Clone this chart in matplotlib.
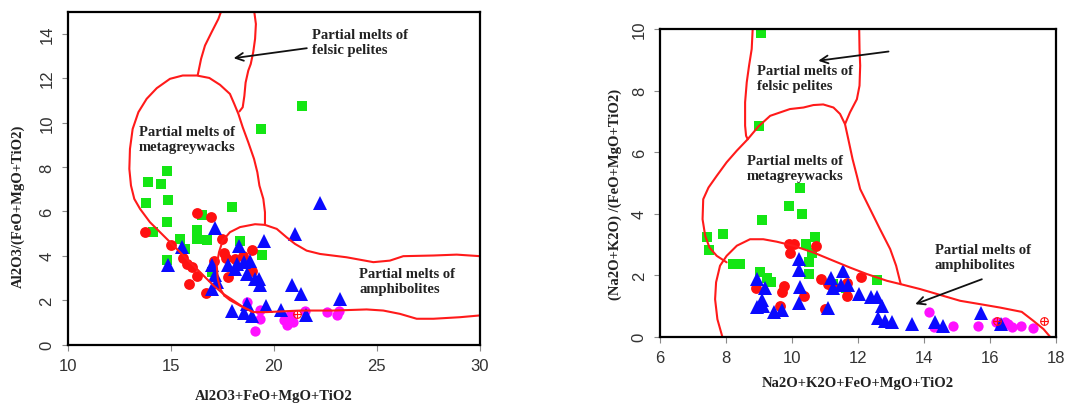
import matplotlib
matplotlib.use("Agg")
import matplotlib.pyplot as plt

# ---------------- Left diagram: Al2O3/(FeO+MgO+TiO2) vs Al2O3+FeO+MgO+TiO2 ----------------
left_green_x = [21.35, 19.38, 14.8, 13.91, 14.51, 13.79, 14.88, 17.96, 14.8, 16.5, 14.16, 15.45,
                16.26, 16.26, 16.75, 15.69, 14.8, 16.99, 18.36, 19.45]
left_green_y = [10.74, 9.71, 7.81, 7.31, 7.25, 6.38, 6.52, 6.19, 5.54, 5.84, 5.08, 4.75,
                5.14, 4.76, 4.72, 4.32, 3.8, 3.26, 4.68, 4.04]

left_red_x = [13.75, 16.26, 16.97, 15.0, 15.61, 15.81, 16.02, 16.29, 15.9, 16.72, 17.48, 17.59,
              17.09, 17.68, 18.12, 18.93, 18.52, 18.94, 17.8]
left_red_y = [5.05, 5.93, 5.74, 4.47, 3.89, 3.64, 3.49, 3.07, 2.73, 2.32, 4.77, 4.14,
              3.78, 3.89, 3.86, 4.27, 4.01, 3.3, 3.04]

left_magenta_x = [18.69, 19.09, 19.34, 19.34, 20.47, 20.63, 20.93, 21.52, 20.79, 22.57, 23.06, 23.17]
left_magenta_y = [1.93, 0.62, 1.16, 1.55, 1.1, 0.86, 1.01, 1.53, 1.31, 1.46, 1.31, 1.5]

left_blue_x = [22.26, 21.05, 17.15, 19.5, 18.32, 15.53, 14.85, 17.01, 17.8, 18.2, 18.53, 18.82,
               18.12, 18.69, 19.09, 19.3, 19.34, 17.15, 17.23, 16.99, 20.87, 21.3, 23.23,
               17.97, 18.53, 18.69, 18.95, 19.61, 20.35, 21.57]
left_blue_y = [6.38, 5.0, 5.25, 4.68, 4.44, 4.38, 3.6, 3.6, 3.56, 3.64, 3.71, 3.74,
               3.41, 3.18, 2.96, 2.96, 2.66, 3.11, 2.81, 2.51, 2.7, 2.26, 2.06,
               1.51, 1.44, 1.83, 1.29, 1.72, 1.57, 1.32]

left_cross_x = [21.12]
left_cross_y = [1.38]

# field boundaries (left)
left_pelite_l_x = [16.31, 16.47, 16.66, 16.98, 17.31, 17.44]
left_pelite_l_y = [12.15, 12.87, 13.47, 14.07, 14.67, 15.0]
left_pelite_r_x = [18.33, 18.49, 18.57, 18.63, 18.76, 18.88, 19.0, 19.09, 19.13, 19.05]
left_pelite_r_y = [10.5, 10.69, 11.2, 11.8, 12.34, 12.64, 13.17, 13.77, 14.44, 15.0]

left_greywacke_x = [19.57, 19.57, 19.49, 19.3, 19.2, 19.04, 18.76, 18.49, 18.28, 18.08, 17.87,
                    17.39, 16.87, 16.26, 15.58, 14.96, 14.32, 13.83, 13.43, 13.15, 13.02, 12.99,
                    13.07, 13.23, 13.51, 13.99, 14.48, 15.13, 15.77, 16.42, 17.07, 17.55, 18.04,
                    18.52, 19.0]
left_greywacke_y = [5.39, 5.96, 6.56, 7.16, 7.76, 8.36, 9.11, 9.79, 10.39, 10.84, 11.29,
                    11.7, 12.01, 12.12, 12.12, 11.97, 11.55, 11.07, 10.47, 9.71, 8.81, 7.91,
                    7.16, 6.56, 6.11, 5.51, 5.06, 4.46, 3.86, 3.26, 2.66, 2.28, 1.98,
                    1.68, 1.46]

left_amph_top_x = [17.6, 17.4, 17.28, 17.23, 17.34, 17.52, 17.87, 18.36, 19.09, 19.57, 20.14,
                   20.62, 21.03, 21.59, 22.24, 23.53, 24.83, 25.63, 26.28, 27.74, 28.87, 30.0]
left_amph_top_y = [2.2, 2.51, 2.96, 3.56, 4.16, 4.68, 5.06, 5.29, 5.42, 5.39, 5.21,
                   4.83, 4.53, 4.23, 4.08, 3.93, 3.71, 3.78, 3.98, 4.01, 4.05, 3.98]
left_amph_bot_x = [17.6, 17.87, 18.36, 19.0, 19.65, 21.27, 22.89, 24.5, 25.31, 26.12, 26.93,
                   27.74, 29.03, 30.0]
left_amph_bot_y = [2.2, 2.0, 1.75, 1.46, 1.46, 1.53, 1.53, 1.58, 1.53, 1.38, 1.16,
                   1.16, 1.23, 1.31]

# ---------------- Right diagram: (Na2O+K2O)/(FeO+MgO+TiO2) vs Na2O+K2O+FeO+MgO+TiO2 ----------------
right_green_x = [9.06, 9.01, 10.25, 9.9, 10.31, 9.09, 7.43, 7.92, 10.7, 7.5, 10.42, 10.6,
                 10.52, 8.2, 8.42, 9.03, 9.23, 9.38, 10.53, 12.57, 11.25, 11.64]
right_green_y = [9.86, 6.86, 4.83, 4.24, 3.99, 3.8, 3.23, 3.34, 3.23, 2.82, 3.0, 2.72,
                 2.42, 2.36, 2.36, 2.11, 1.91, 1.78, 2.05, 1.84, 1.7, 1.58]

right_red_x = [9.9, 10.05, 10.72, 9.93, 8.91, 9.76, 9.69, 9.64, 10.38, 10.87, 11.0, 11.25,
               11.66, 12.08, 11.1, 11.66]
right_red_y = [3.02, 3.02, 2.95, 2.71, 1.58, 1.65, 1.47, 1.01, 1.32, 1.88, 0.9, 1.6,
               1.33, 1.93, 1.7, 1.75]

right_magenta_x = [14.17, 14.3, 14.88, 15.65, 16.2, 16.45, 16.67, 16.96, 17.31, 16.55]
right_magenta_y = [0.82, 0.32, 0.35, 0.35, 0.49, 0.48, 0.33, 0.35, 0.28, 0.42]

right_blue_x = [8.95, 9.18, 9.08, 9.13, 8.95, 9.45, 9.69, 10.21, 10.21, 10.26, 10.22, 11.1,
                11.17, 11.25, 11.54, 11.5, 11.7, 12.04, 12.41, 12.57, 12.72, 12.62, 12.82,
                13.02, 13.63, 14.33, 14.58, 15.73, 16.35]
right_blue_y = [1.88, 1.57, 1.2, 0.99, 0.97, 0.8, 0.88, 2.53, 2.17, 1.62, 1.09, 0.93,
                1.91, 1.6, 2.15, 1.67, 1.67, 1.39, 1.28, 1.28, 1.0, 0.62, 0.52,
                0.47, 0.41, 0.49, 0.36, 0.76, 0.43]

right_cross_x = [16.22, 17.63]
right_cross_y = [0.52, 0.5]

# field boundaries (right)
right_pelite_l_x = [8.81, 8.78, 8.7, 8.63, 8.58, 8.58, 8.61, 8.66]
right_pelite_l_y = [10.0, 9.35, 8.81, 8.27, 7.62, 6.86, 6.53, 6.42]
right_pelite_r_x = [12.04, 12.05, 12.07, 12.05, 11.97, 11.76, 11.61]
right_pelite_r_y = [10.0, 9.35, 8.81, 8.16, 7.72, 7.29, 6.91]

right_greywacke_x = [8.02, 7.72, 7.5, 7.37, 7.29, 7.31, 7.47, 7.72, 8.02, 8.33, 8.66, 8.98,
                     9.34, 9.94, 10.35, 10.65, 10.95, 11.26, 11.46, 11.61, 11.71, 11.84,
                     11.97, 12.07, 12.37, 12.67, 12.98, 13.16, 13.3]
right_greywacke_y = [2.42, 2.63, 2.9, 3.28, 3.82, 4.47, 4.85, 5.23, 5.67, 6.05, 6.42, 6.83,
                     7.18, 7.4, 7.45, 7.53, 7.55, 7.45, 7.24, 6.91, 6.42, 5.77,
                     5.23, 4.8, 4.15, 3.5, 2.85, 2.31, 1.71]

right_amph_x = [7.89, 7.74, 7.67, 7.7, 7.82, 8.02, 8.33, 8.73, 9.13, 9.54, 10.04, 10.65,
                11.26, 11.76, 12.27, 12.88, 13.3, 13.89, 14.59, 15.1, 15.71, 16.31, 16.97,
                17.32, 17.63, 17.83]
right_amph_y = [0.0, 0.57, 1.22, 1.77, 2.31, 2.63, 2.96, 3.17, 3.17, 3.09, 2.96, 2.74,
                2.47, 2.25, 2.04, 1.82, 1.71, 1.55, 1.33, 1.17, 1.06, 0.95, 0.81,
                0.52, 0.25, 0.0]

GREEN = "#14e614"
RED = "#ff1010"
BLUE = "#0a0aff"
MAGENTA = "#ff10ff"
LINE_RED = "#ff1a1a"

SERIF = "Liberation Serif"
SANS = "Liberation Sans"
LABEL_COLOR = "#222222"

fig = plt.figure(figsize=(10.68, 4.06), dpi=100)
fig.patch.set_facecolor("white")

ax1 = fig.add_axes([0.0634, 0.149, 0.386, 0.820])
ax2 = fig.add_axes([0.618, 0.168, 0.3705, 0.758])


def draw_points(ax, gx, gy, rx, ry, mx, my, bx, by, cx, cy):
    ax.plot(gx, gy, ls="none", marker="s", ms=7.6, mew=0, color=GREEN, zorder=3)
    ax.plot(rx, ry, ls="none", marker="o", ms=7.8, mew=0, color=RED, zorder=3)
    ax.plot(mx, my, ls="none", marker="o", ms=7.4, mew=0, color=MAGENTA, zorder=3)
    ax.plot(bx, by, ls="none", marker="^", ms=9.5, mew=0, color=BLUE, zorder=4)
    ax.plot(cx, cy, ls="none", marker="o", ms=5.5, mfc="none", mec=RED, mew=0.8, zorder=5)
    ax.plot(cx, cy, ls="none", marker="+", ms=5.5, mec=RED, mew=0.8, zorder=5)


def style_axes(ax, xlim, ylim, xticks, yticks, xlabel, ylabel, xlab_pos, ylab_pos):
    ax.set_xlim(*xlim)
    ax.set_ylim(*ylim)
    ax.set_xticks(xticks)
    ax.set_yticks(yticks)
    for s in ax.spines.values():
        s.set_linewidth(1.6)
        s.set_color("black")
        s.set_zorder(10)
    ax.tick_params(direction="out", length=4.5, width=0.8, color="#8a8a8a",
                   labelsize=12, labelcolor="#333333", pad=5)
    for lab in ax.get_xticklabels() + ax.get_yticklabels():
        lab.set_fontfamily(SANS)
    for lab in ax.get_yticklabels():
        lab.set_rotation(90)
        lab.set_va("center")
    ax.set_xlabel(xlabel, fontfamily=SERIF, fontweight="bold", fontsize=10.5, color=LABEL_COLOR)
    ax.set_ylabel(ylabel, fontfamily=SERIF, fontweight="bold", fontsize=10.5, color=LABEL_COLOR)
    ax.xaxis.set_label_coords(*xlab_pos)
    ax.xaxis.label.set_va("center")
    ax.yaxis.set_label_coords(*ylab_pos)
    ax.yaxis.label.set_va("center")


def field_text(ax, x, y, s):
    ax.text(x, y, s, ha="left", va="top", fontfamily=SERIF, fontweight="bold",
            fontsize=10.5, color=LABEL_COLOR, zorder=6)


def arrow(ax, start, end):
    ax.annotate("", xy=end, xytext=start,
                arrowprops=dict(arrowstyle="->", lw=1.3, color="#111111",
                                mutation_scale=14, shrinkA=0, shrinkB=0), zorder=6)


# ---- left panel ----
draw_points(ax1, left_green_x, left_green_y, left_red_x, left_red_y,
            left_magenta_x, left_magenta_y, left_blue_x, left_blue_y,
            left_cross_x, left_cross_y)
for xs, ys in [(left_pelite_l_x, left_pelite_l_y), (left_pelite_r_x, left_pelite_r_y),
               (left_greywacke_x, left_greywacke_y), (left_amph_top_x, left_amph_top_y),
               (left_amph_bot_x, left_amph_bot_y)]:
    ax1.plot(xs, ys, color=LINE_RED, lw=1.5, zorder=5, solid_capstyle="round")

field_text(ax1, 21.85, 14.25, "Partial melts of\nfelsic pelites")
field_text(ax1, 13.45, 9.9, "Partial melts of\nmetagreywacks")
field_text(ax1, 24.15, 3.5, "Partial melts of\namphibolites")
arrow(ax1, (21.6, 13.35), (18.05, 12.9))

style_axes(ax1, (10, 30), (0, 15), [10, 15, 20, 25, 30], [0, 2, 4, 6, 8, 10, 12, 14],
           "Al2O3+FeO+MgO+TiO2", "Al2O3/(FeO+MgO+TiO2)",
           (0.5, -0.153), (-0.121, 0.417))

# ---- right panel ----
draw_points(ax2, right_green_x, right_green_y, right_red_x, right_red_y,
            right_magenta_x, right_magenta_y, right_blue_x, right_blue_y,
            right_cross_x, right_cross_y)
for xs, ys in [(right_pelite_l_x, right_pelite_l_y), (right_pelite_r_x, right_pelite_r_y),
               (right_greywacke_x, right_greywacke_y), (right_amph_x, right_amph_y)]:
    ax2.plot(xs, ys, color=LINE_RED, lw=1.5, zorder=5, solid_capstyle="round")

field_text(ax2, 8.95, 8.85, "Partial melts of\nfelsic pelites")
field_text(ax2, 8.64, 5.95, "Partial melts of\nmetagreywacks")
field_text(ax2, 14.33, 3.05, "Partial melts of\namphibolites")
arrow(ax2, (12.93, 9.27), (10.8, 8.97))
arrow(ax2, (15.76, 1.87), (13.74, 1.06))

style_axes(ax2, (6, 18), (0, 10), [6, 8, 10, 12, 14, 16, 18], [0, 2, 4, 6, 8, 10],
           "Na2O+K2O+FeO+MgO+TiO2", "(Na2O+K2O) /(FeO+MgO+TiO2)",
           (0.5, -0.147), (-0.114, 0.465))

fig.savefig("out.png", dpi=100, facecolor="white")
